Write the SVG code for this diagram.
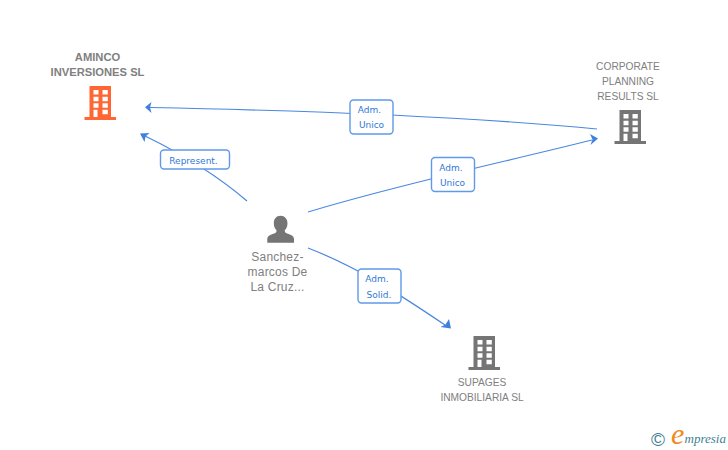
<svg xmlns="http://www.w3.org/2000/svg" width="728" height="450" viewBox="0 0 728 450">
<style>
.n{font-family:"Liberation Sans",Arial,sans-serif;font-size:10.2px;fill:#808080;text-anchor:middle}
.b{font-weight:bold;font-size:11.200px}
.p{font-size:12px;letter-spacing:.2px}
.c{fill:none;stroke:#4a88e0;stroke-width:1.2}
.h{fill:#3f80de}
.lb{fill:#fff;stroke:#5f9aea;stroke-width:1.4}
.lt{font-family:"DejaVu Sans",sans-serif;font-size:9px;fill:#2f78d8;text-anchor:middle}
</style>
<defs>
<symbol id="bld" viewBox="0 0 32 35" width="32" height="35" overflow="visible">
<path fill="currentColor" d="M5 0H26.500V31H31.500V34H0V31H5Z"/>
<path fill="#fff" d="M9 4h5v4.500H9zM18 4h5.300v4.500H18zM9 10.700h5v4.500H9zM18 10.700h5.300v4.500H18zM9 17.300h5v4.500H9zM18 17.300h5.300v4.500H18zM9 23.700h4V31H9zM18 23.700h5.300v4.600H18z"/>
</symbol>
</defs>
<g id="connectors">
<path class="c" d="M597 129Q430 113 150 107.500"/>
<path class="h" d="M145 107.300L151.500 102 150 107.500 151.500 113Z"/>
<path class="c" d="M308 212C400 184 500 163 592 140"/>
<path class="h" d="M598 138.500L590 134 592.500 139.500 590.500 145Z"/>
<path class="c" d="M247 201Q205 165 145 136"/>
<path class="h" d="M140 133.500L149.500 133 145.500 136.500 144.500 142Z"/>
<path class="c" d="M308 248C360 268 405 298 445 325"/>
<path class="h" d="M451 328.500L449 319 445.500 324.500 440.500 327Z"/>
</g>
<g id="label-adm-unico-1"><rect class="lb" x="350" y="100" width="43" height="34" rx="3.500"/><text class="lt" x="369.500" y="113">Adm.</text><text class="lt" x="371.500" y="128">Unico</text></g>
<g id="label-adm-unico-2"><rect class="lb" x="431.500" y="157.500" width="43" height="34" rx="3.500"/><text class="lt" x="451" y="171">Adm.</text><text class="lt" x="452.500" y="186">Unico</text></g>
<g id="label-represent"><rect class="lb" x="160.500" y="150" width="69" height="19" rx="3.500"/><text class="lt" x="193.500" y="163.500">Represent.</text></g>
<g id="label-adm-solid"><rect class="lb" x="358" y="269" width="43" height="34" rx="3.500"/><text class="lt" x="377" y="282">Adm.</text><text class="lt" x="379" y="298">Solid.</text></g>
<g id="node-aminco" color="#ff6633">
<text class="n b" x="97.500" y="61">AMINCO</text><text class="n b" x="97.500" y="76">INVERSIONES SL</text>
<use href="#bld" x="84.500" y="86"/>
</g>
<g id="node-corporate" color="#757575">
<text class="n" x="628" y="70">CORPORATE</text><text class="n" x="628" y="85">PLANNING</text><text class="n" x="628" y="100">RESULTS SL</text>
<use href="#bld" x="614.500" y="110"/>
</g>
<g id="node-person">
<path fill="#757575" d="M280.500 215.700c4.300 0 7 3.300 7 7.600 0 3-1.200 5.600-2.800 7.200 0 1.700.8 2.500 2.500 3.100 3.700 1.300 6.800 2.200 6.800 5.700v3.400H267.300v-3.400c0-3.500 3.100-4.400 6.800-5.700 1.700-.6 2.500-1.400 2.500-3.100-1.600-1.600-2.800-4.200-2.800-7.200 0-4.300 2.400-7.600 6.700-7.600Z"/>
<text class="n p" x="277.500" y="261">Sanchez-</text><text class="n p" x="277.500" y="276">marcos De</text><text class="n p" x="277.500" y="291">La Cruz...</text>
</g>
<g id="node-supages" color="#757575">
<use href="#bld" x="468.500" y="336"/>
<text class="n" x="482" y="386">SUPAGES</text><text class="n" x="482" y="401">INMOBILIARIA SL</text>
</g>
<g id="logo">
<text x="658" y="445.500" font-family="'Liberation Sans',sans-serif" font-size="19" fill="#3f7f95" text-anchor="middle">©</text>
<text x="671" y="444" font-family="'Liberation Serif',serif" font-style="italic" font-size="30" fill="#f08a1d">e</text>
<text x="684.500" y="443" font-family="'Liberation Serif',serif" font-style="italic" font-size="13" fill="#3f7f95">mpresia</text>
</g>
</svg>
